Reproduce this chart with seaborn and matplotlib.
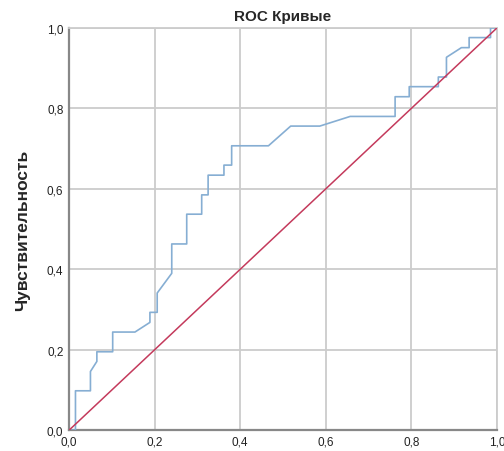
import numpy as np
import matplotlib
matplotlib.use("Agg")
import matplotlib.pyplot as plt
import seaborn as sns

# ROC curve points (1 - specificity, sensitivity)
fpr = [0.0, 0.015, 0.015, 0.05, 0.05, 0.065, 0.065, 0.102, 0.102, 0.154,
       0.189, 0.189, 0.206, 0.206, 0.24, 0.24, 0.275, 0.275, 0.31, 0.31,
       0.325, 0.325, 0.362, 0.362, 0.38, 0.38, 0.466, 0.518, 0.586, 0.657,
       0.762, 0.762, 0.795, 0.795, 0.863, 0.863, 0.882, 0.882, 0.917, 0.935,
       0.935, 0.985, 0.985, 1.0]
tpr = [0.0, 0.0, 0.098, 0.098, 0.146, 0.171, 0.195, 0.195, 0.244, 0.244,
       0.268, 0.293, 0.293, 0.341, 0.390, 0.463, 0.463, 0.537, 0.537, 0.585,
       0.585, 0.634, 0.634, 0.659, 0.659, 0.707, 0.707, 0.756, 0.756, 0.780,
       0.780, 0.829, 0.829, 0.854, 0.854, 0.878, 0.878, 0.927, 0.951, 0.951,
       0.976, 0.976, 1.0, 1.0]
ref_line = [0.0, 1.0]
ticks = [0.0, 0.2, 0.4, 0.6, 0.8, 1.0]
tick_labels = ["0,0", "0,2", "0,4", "0,6", "0,8", "1,0"]

sns.set_style("white")
plt.rcParams["font.family"] = ["Liberation Sans", "DejaVu Sans"]

fig = plt.figure(figsize=(5.04, 4.52), dpi=100)
ax = fig.add_axes([0.137, 0.046, 0.849, 0.890])

sns.lineplot(x=fpr, y=tpr, sort=False, estimator=None, color="#86aed3",
             linewidth=1.2, ax=ax, zorder=3)
sns.lineplot(x=ref_line, y=ref_line, color="#c43a5c", linewidth=1.1,
             ax=ax, zorder=4)

ax.set_xlim(0, 1)
ax.set_ylim(0, 1)
ax.set_xticks(ticks)
ax.set_yticks(ticks)
ax.set_xticklabels(tick_labels, fontsize=8.5, color="#222222")
ax.set_yticklabels(tick_labels, fontsize=8.5, color="#222222")
ax.grid(True, color="#cccccc", linewidth=1.3)
ax.set_axisbelow(True)

for side in ["top", "right"]:
    ax.spines[side].set_color("#cccccc")
    ax.spines[side].set_linewidth(1.3)
for side in ["left", "bottom"]:
    ax.spines[side].set_color("#888888")
    ax.spines[side].set_linewidth(1.6)

ax.tick_params(axis="both", length=0, pad=4)
ax.set_title("ROC Кривые", fontsize=11, fontweight="bold", pad=6)
ax.set_ylabel("Чувствительность", fontsize=12.5, fontweight="bold", labelpad=12)
ax.set_xlabel("")

fig.savefig("out.png", dpi=100)
